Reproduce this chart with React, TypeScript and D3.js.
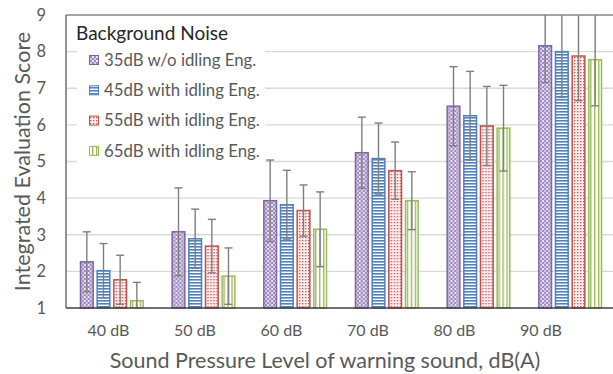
import React from "react";
import * as d3 from "d3";

const categories = ["40 dB", "50 dB", "60 dB", "70 dB", "80 dB", "90 dB"];
const seriesNames = [
  "35dB w/o idling Eng.",
  "45dB with idling Eng.",
  "55dB with idling Eng.",
  "65dB with idling Eng.",
];
const s35Mean = [2.26, 3.08, 3.93, 5.24, 6.51, 8.16];
const s35Err = [0.82, 1.2, 1.11, 0.97, 1.08, 1.0];
const s45Mean = [2.02, 2.89, 3.82, 5.08, 6.25, 8.0];
const s45Err = [0.74, 0.81, 0.94, 0.97, 1.21, 1.25];
const s55Mean = [1.77, 2.69, 3.66, 4.75, 5.97, 7.88];
const s55Err = [0.67, 0.73, 0.7, 0.78, 1.08, 1.22];
const s65Mean = [1.2, 1.87, 3.15, 3.93, 5.91, 7.78];
const s65Err = [0.5, 0.77, 1.02, 0.79, 1.17, 1.26];
const yTicks = [1, 2, 3, 4, 5, 6, 7, 8, 9];

const means = [s35Mean, s45Mean, s55Mean, s65Mean];
const errs = [s35Err, s45Err, s55Err, s65Err];
const strokes = ["#8064a2", "#4f81bd", "#c0504d", "#9bbb59"];
const patIds = ["pPurple", "pBlue", "pRed", "pGreen"];

const W = 613;
const H = 374;
const left = 66;
const top = 15;
const bottom = 308;
const right = 616;
const FONT = "Lato, 'Open Sans', sans-serif";
const TXT = "#595959";

export default function App() {
  const y = d3.scaleLinear().domain([1, 9]).range([bottom, top]);
  const x0 = d3
    .scaleBand<string>()
    .domain(categories)
    .range([left, right])
    .paddingInner(0.3)
    .paddingOuter(0.15);
  const x1 = d3
    .scaleBand<string>()
    .domain(seriesNames)
    .range([0, x0.bandwidth()])
    .paddingInner(0.15)
    .paddingOuter(0);
  const xLab = d3.scalePoint<string>().domain(categories).range([108.5, 541]);
  const bw = x1.bandwidth();
  const cap = 4;

  return (
    <svg
      width={W}
      height={H}
      style={{ position: "absolute", left: 0, top: 0, background: "#fff" }}
      fontFamily={FONT}
    >
      <defs>
        <pattern id="pPurple" width="4" height="4" patternUnits="userSpaceOnUse">
          <rect width="4" height="4" fill="#a08bc0" />
          <rect x="0" y="0" width="2" height="2" fill="#e8e1f1" />
          <rect x="2" y="2" width="2" height="2" fill="#d4c9e4" />
        </pattern>
        <pattern id="pBlue" width="4" height="3" patternUnits="userSpaceOnUse">
          <rect width="4" height="3" fill="#ffffff" />
          <rect width="4" height="1.6" fill="#4f81bd" />
        </pattern>
        <pattern id="pRed" width="3" height="3" patternUnits="userSpaceOnUse">
          <rect width="3" height="3" fill="#fbecec" />
          <rect x="0" y="0" width="1.3" height="1.3" fill="#c0504d" />
        </pattern>
        <pattern id="pGreen" width="4" height="4" patternUnits="userSpaceOnUse">
          <rect width="4" height="4" fill="#ffffff" />
          <rect width="1.4" height="4" fill="#9bbb59" />
        </pattern>
        <clipPath id="plotClip">
          <rect x={left} y={top} width={W - left} height={bottom - top} />
        </clipPath>
      </defs>

      {/* gridlines */}
      {yTicks
        .filter((t) => t > 1 && t < 9)
        .map((t) => (
          <line
            key={"g" + t}
            x1={left}
            x2={W}
            y1={y(t)}
            y2={y(t)}
            stroke="#d9d9d9"
            strokeWidth={1.3}
          />
        ))}

      {/* bars */}
      {categories.map((c, ci) => (
        <g key={"grp" + c} transform={`translate(${x0(c)},0)`}>
          {seriesNames.map((s, si) => {
            const v = means[si][ci];
            return (
              <rect
                key={s}
                x={(x1(s) as number) + 0.75}
                y={y(v)}
                width={bw - 1.5}
                height={y(1) - y(v)}
                fill={`url(#${patIds[si]})`}
                stroke={strokes[si]}
                strokeWidth={1.5}
              />
            );
          })}
        </g>
      ))}

      {/* error bars */}
      <g clipPath="url(#plotClip)">
        {categories.map((c, ci) =>
          seriesNames.map((s, si) => {
            const v = means[si][ci];
            const e = errs[si][ci];
            const cx = (x0(c) as number) + (x1(s) as number) + bw / 2;
            return (
              <g key={c + s} stroke="#7f7f7f" strokeWidth={1.4}>
                <line x1={cx} x2={cx} y1={y(v + e)} y2={y(v - e)} />
                <line x1={cx - cap} x2={cx + cap} y1={y(v + e)} y2={y(v + e)} />
                <line x1={cx - cap} x2={cx + cap} y1={y(v - e)} y2={y(v - e)} />
              </g>
            );
          })
        )}
      </g>

      {/* axes frame */}
      <line x1={left} x2={W} y1={top} y2={top} stroke="#868686" strokeWidth={1.3} />
      <line x1={left} x2={left} y1={top} y2={bottom} stroke="#595959" strokeWidth={1.3} />
      <line x1={left} x2={W} y1={bottom} y2={bottom} stroke="#404040" strokeWidth={1.5} />

      {/* y ticks */}
      {yTicks.map((t) => (
        <text
          key={"yt" + t}
          x={46}
          y={y(t)}
          dy="0.35em"
          textAnchor="end"
          fontSize={16.5}
          fill={TXT}
        >
          {t}
        </text>
      ))}

      {/* x tick labels */}
      {categories.map((c) => (
        <text
          key={"xt" + c}
          x={xLab(c)}
          y={336}
          textAnchor="middle"
          fontSize={16}
          fill={TXT}
        >
          {c}
        </text>
      ))}

      {/* axis titles */}
      <text x={325} y={368} textAnchor="middle" fontSize={21.5} fill={TXT}>
        Sound Pressure Level of warning sound, dB(A)
      </text>
      <text
        transform={`translate(30,${(top + bottom) / 2}) rotate(-90)`}
        textAnchor="middle"
        fontSize={21.5}
        fill={TXT}
      >
        Integrated Evaluation Score
      </text>

      {/* legend */}
      <rect x={77} y={20} width={188} height={146} fill="#ffffff" />
      <text x={76} y={40} fontSize={19} fill="#262626">
        Background Noise
      </text>
      {seriesNames.map((s, si) => {
        const ly = 60 + si * 30.3;
        return (
          <g key={"lg" + s}>
            <rect
              x={89.5}
              y={ly - 4.5}
              width={9}
              height={9}
              fill={`url(#${patIds[si]})`}
              stroke={strokes[si]}
              strokeWidth={1}
            />
            <text x={104} y={ly} dy="0.35em" fontSize={16.8} fill={TXT}>
              {s}
            </text>
          </g>
        );
      })}
    </svg>
  );
}
